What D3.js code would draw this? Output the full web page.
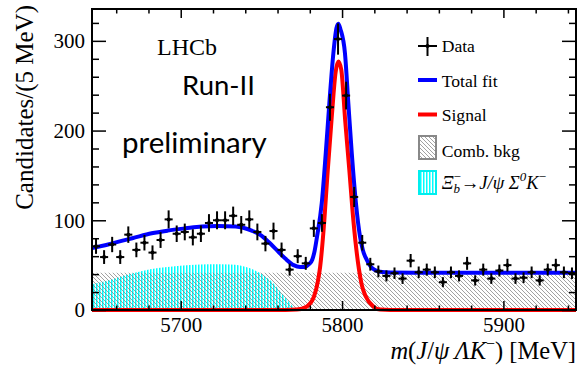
<!DOCTYPE html>
<html>
<head>
<meta charset="utf-8">
<script src="https://cdn.jsdelivr.net/npm/d3@7"></script>
<style>
body{margin:0;background:#fff}
svg{display:block}
</style>
</head>
<body>
<div id="chart"></div>
<script>
// 5 MeV bins from 5645 to 5945 MeV
var massLo = 5645, massHi = 5945, binWidth = 5;
var counts = [71,59,73,59,84,67,75,64,78,101,
              85,87,81,85,97,100,100,105,95,101,
              87,74,88,67,45,60,52,91,97,226,
              302,239,126,75,51,43,38,41,35,55,
              42,45,42,31,42,38,52,33,45,35,
              44,50,35,36,42,33,45,50,42,41];

// fit components (mass, candidates)
var totalMass = [5645,5655,5661,5670,5682,5692,5703,5713,5723,5734,5744,5750,5755,5760,5765,5770,5774,5777,
                 5779.5,5781.5,5783,5784.5,5787.4,5789.9,5792.1,5794.6,5796.5,5797.7,5799,5801.8,5803.9,5806,
                 5808.6,5811.1,5813,5815.3,5818,5820.4,5823.5,5830,5860,5945];
var totalVal  = [69,73,76,80,85.5,88.5,91,93,93.6,93,88.4,83,75,66,57,50,48,48,
                 51,56,66,82,119,175,230,286,314,319,313,286,230,175,
                 119,82,66,56,48,44.6,42.7,41.8,41.5,41.5];

var sigMass = [5645,5765,5772,5778,5782.6,5785,5786.4,5789,5790.9,5793.6,5796,5797.7,5799.5,5801.9,
               5804.5,5807,5810.5,5812.2,5814.7,5819.4,5823.5,5830,5945];
var sigVal  = [0,0,0.5,3.7,15,32,48,100,150,215,265,277,268,212,
               156,100,45,28,15,4,0.5,0,0];

var xibMass = [5645,5656,5668.6,5681,5693.4,5705.8,5718,5730.6,5743,5751.2,5757.4,5762.6,5767.8,5771];
var xibVal  = [28.6,33.4,40,45.4,48.3,50.2,51,50.6,46.4,39,29.8,18.6,7.5,0];

var combMass = [5645,5945];
var combVal  = [41.5,41.5];

var xMajor = [5700,5800,5900];
var yMajor = [0,100,200,300];

var W = 577, H = 365;
var pL = 92, pR = 576, pT = 9, pB = 310;
var serif = "'Liberation Serif','Times New Roman',serif";
var sans = "Lato, 'Open Sans', sans-serif";

var svg = d3.select("#chart").append("svg")
    .attr("width", W)
    .attr("height", H);

var defs = svg.append("defs");
var hatch = defs.append("pattern")
    .attr("id","hatch")
    .attr("patternUnits","userSpaceOnUse")
    .attr("width",4).attr("height",4);
hatch.append("path")
    .attr("d","M-1,-1L5,5M-1,3L1,5M3,-1L5,1")
    .attr("stroke","#7a7a7a")
    .attr("stroke-width",0.7);
var stripe = defs.append("pattern")
    .attr("id","vstripe")
    .attr("patternUnits","userSpaceOnUse")
    .attr("width",3).attr("height",3);
stripe.append("rect")
    .attr("width",1.5).attr("height",3)
    .attr("fill","#00ffff");
defs.append("clipPath").attr("id","plotClip")
  .append("rect")
    .attr("x",pL).attr("y",pT)
    .attr("width",pR-pL).attr("height",pB-pT+2);

var x = d3.scaleLinear().domain([massLo, massHi]).range([pL, pR]);
var y = d3.scaleLinear().domain([0, 335.5]).range([pB, pT]);

function pairs(ms, vs) {
    return ms.map(function(m,i){ return [m, vs[i]]; });
}

var area = d3.area()
    .x(function(d){ return x(d[0]); })
    .y0(y(0))
    .y1(function(d){ return y(d[1]); })
    .curve(d3.curveMonotoneX);
var line = d3.line()
    .x(function(d){ return x(d[0]); })
    .y(function(d){ return y(d[1]); })
    .curve(d3.curveMonotoneX);

var plot = svg.append("g").attr("clip-path","url(#plotClip)");

plot.append("path")
    .datum(pairs(xibMass, xibVal))
    .attr("d", area)
    .attr("fill","url(#vstripe)");

plot.append("path")
    .datum(pairs(combMass, combVal))
    .attr("d", area)
    .attr("fill","url(#hatch)");

// frame
svg.append("rect")
    .attr("x",pL).attr("y",pT)
    .attr("width",pR-pL).attr("height",pB-pT)
    .attr("fill","none")
    .attr("stroke","#000")
    .attr("stroke-width",2);

plot.append("path")
    .datum(pairs(sigMass, sigVal))
    .attr("d", line)
    .attr("fill","none")
    .attr("stroke","#ff0000")
    .attr("stroke-width",4);

plot.append("path")
    .datum(pairs(totalMass, totalVal))
    .attr("d", line)
    .attr("fill","none")
    .attr("stroke","#0000ff")
    .attr("stroke-width",4);

// axes
function styleAxis(g) {
    g.select(".domain").remove();
    g.selectAll(".tick line").attr("stroke","#000").attr("stroke-width",1.5);
    g.selectAll(".tick text").attr("fill","#000");
    g.attr("font-family", serif).attr("font-size", 21);
}
var yMinor = d3.range(20, 335, 20).filter(function(v){ return v % 100 !== 0; });
var xMinor = d3.range(5660, massHi, 20).filter(function(v){ return v % 100 !== 0; });
var fmt = d3.format("d");

svg.append("g").attr("transform","translate("+pL+",0)")
    .call(d3.axisLeft(y).tickValues(yMajor).tickSize(-14).tickPadding(7).tickFormat(fmt))
    .call(styleAxis);
svg.append("g").attr("transform","translate("+pL+",0)")
    .call(d3.axisLeft(y).tickValues(yMinor).tickSize(-7).tickFormat(""))
    .call(styleAxis);
svg.append("g").attr("transform","translate("+pR+",0)")
    .call(d3.axisRight(y).tickValues(yMajor).tickSize(-14).tickFormat(""))
    .call(styleAxis);
svg.append("g").attr("transform","translate("+pR+",0)")
    .call(d3.axisRight(y).tickValues(yMinor).tickSize(-7).tickFormat(""))
    .call(styleAxis);

svg.append("g").attr("transform","translate(0,"+pB+")")
    .call(d3.axisBottom(x).tickValues(xMajor).tickSize(-9).tickPadding(7).tickFormat(fmt))
    .call(styleAxis);
svg.append("g").attr("transform","translate(0,"+pB+")")
    .call(d3.axisBottom(x).tickValues(xMinor).tickSize(-4.5).tickFormat(""))
    .call(styleAxis);
svg.append("g").attr("transform","translate(0,"+pT+")")
    .call(d3.axisTop(x).tickValues(xMajor).tickSize(-9).tickFormat(""))
    .call(styleAxis);
svg.append("g").attr("transform","translate(0,"+pT+")")
    .call(d3.axisTop(x).tickValues(xMinor).tickSize(-4.5).tickFormat(""))
    .call(styleAxis);

// data points with errors
var pts = svg.append("g").attr("stroke","#000").attr("stroke-width",2);
counts.forEach(function(c, i){
    var m = massLo + binWidth*(i+0.5);
    var e = Math.sqrt(c);
    pts.append("line")
        .attr("x1",x(m-binWidth/2)).attr("x2",x(m+binWidth/2))
        .attr("y1",y(c)).attr("y2",y(c));
    pts.append("line")
        .attr("x1",x(m)).attr("x2",x(m))
        .attr("y1",y(c-e)).attr("y2",y(c+e));
    pts.append("circle")
        .attr("cx",x(m)).attr("cy",y(c)).attr("r",2)
        .attr("fill","#000").attr("stroke","none");
});

// axis titles
svg.append("text")
    .attr("transform","translate(33,5) rotate(-90)")
    .attr("text-anchor","end")
    .attr("font-family",serif)
    .attr("font-size",25)
    .text("Candidates/(5 MeV)");

var xt = svg.append("text")
    .attr("x",576).attr("y",359)
    .attr("text-anchor","end")
    .attr("font-family",serif)
    .attr("font-size",24.5);
xt.append("tspan").attr("font-style","italic").text("m");
xt.append("tspan").text("(");
xt.append("tspan").attr("font-style","italic").text("J");
xt.append("tspan").text("/");
xt.append("tspan").attr("font-style","italic").text("ψ Λ");
xt.append("tspan").attr("font-style","italic").text("K");
xt.append("tspan").attr("font-size",16).attr("dy",-10).text("−");
xt.append("tspan").attr("dy",10).text(") [MeV]");

// labels inside plot
svg.append("text")
    .attr("x",157).attr("y",55)
    .attr("font-family",serif).attr("font-size",24)
    .text("LHCb");
svg.append("text")
    .attr("x",182).attr("y",95)
    .attr("font-family",sans).attr("font-size",27.5)
    .text("Run-II");
svg.append("text")
    .attr("x",122).attr("y",153)
    .attr("font-family",sans).attr("font-size",29.5)
    .text("preliminary");

// legend
var lg = svg.append("g").attr("font-family",serif).attr("font-size",17.6);
var lx = 418, tx = 441.7;
lg.append("line").attr("x1",lx).attr("x2",lx+19).attr("y1",46).attr("y2",46)
    .attr("stroke","#000").attr("stroke-width",2);
lg.append("line").attr("x1",lx+9.5).attr("x2",lx+9.5).attr("y1",37).attr("y2",56)
    .attr("stroke","#000").attr("stroke-width",2);
lg.append("circle").attr("cx",lx+9.5).attr("cy",46).attr("r",2).attr("fill","#000");
lg.append("text").attr("x",tx).attr("y",52).text("Data");

lg.append("line").attr("x1",lx).attr("x2",lx+19).attr("y1",80).attr("y2",80)
    .attr("stroke","#0000ff").attr("stroke-width",4);
lg.append("text").attr("x",tx).attr("y",86.5).text("Total fit");

lg.append("line").attr("x1",lx).attr("x2",lx+19).attr("y1",114.5).attr("y2",114.5)
    .attr("stroke","#ff0000").attr("stroke-width",4);
lg.append("text").attr("x",tx).attr("y",121).text("Signal");

lg.append("rect").attr("x",lx+1).attr("y",136).attr("width",17).attr("height",23)
    .attr("fill","url(#hatch)").attr("stroke","#888").attr("stroke-width",2);
lg.append("text").attr("x",tx).attr("y",157).text("Comb. bkg");

lg.append("rect").attr("x",lx+1).attr("y",171).attr("width",17).attr("height",23)
    .attr("fill","url(#vstripe)").attr("stroke","#00eeee").attr("stroke-width",2);
var xl = lg.append("text").attr("x",tx).attr("y",189).attr("font-size",18.5);
xl.append("tspan").attr("font-style","italic").text("Ξ");
xl.append("tspan").attr("font-style","italic").attr("font-size",13).attr("dy",4).text("b");
xl.append("tspan").attr("font-size",13).attr("dx",-6.5).attr("dy",-12).text("−");
xl.append("tspan").attr("dy",8).text("→");
xl.append("tspan").attr("font-style","italic").text("J/ψ Σ");
xl.append("tspan").attr("font-style","italic").attr("font-size",13).attr("dy",-8).text("0");
xl.append("tspan").attr("font-style","italic").attr("dy",8).text("K");
xl.append("tspan").attr("font-size",13).attr("dy",-8).text("−");
</script>
</body>
</html>
